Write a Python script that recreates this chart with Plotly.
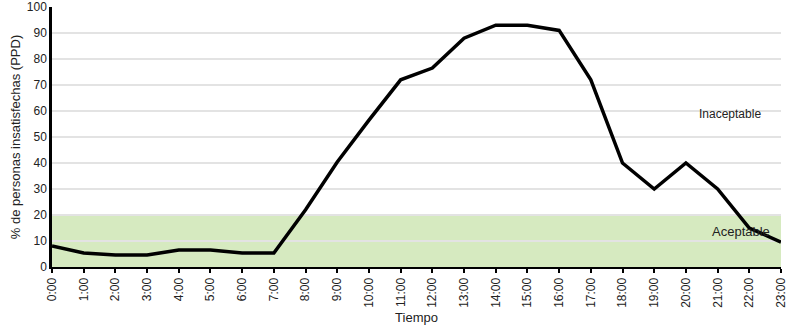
import plotly.graph_objects as go

hours = [f"{h}:00" for h in range(24)]
ppd = [8.1, 5.4, 4.6, 4.6, 6.5, 6.5, 5.4, 5.4, 22, 40.4, 56.5, 72, 76.5, 88, 93, 93, 91, 72, 40, 30, 40, 30, 15, 9.6]
y_ticks = [0, 10, 20, 30, 40, 50, 60, 70, 80, 90, 100]
band_low, band_high = 0, 20

fig = go.Figure()
fig.add_shape(type="rect", xref="x", yref="y", x0=0, x1=23, y0=band_low, y1=band_high,
              fillcolor="#d6eac0", line=dict(width=0), layer="below")
fig.add_trace(go.Scatter(x=list(range(24)), y=ppd, mode="lines",
                         line=dict(color="black", width=3.5), showlegend=False, cliponaxis=False))

fig.add_annotation(x=21.4, y=59, text="Inaceptable", showarrow=False,
                   font=dict(size=12, color="#222"))
fig.add_annotation(x=21.75, y=13.5, text="Aceptable", showarrow=False,
                   font=dict(size=13, color="#222"))

fig.update_layout(
    width=790, height=330,
    margin=dict(l=52, r=9, t=7, b=63),
    paper_bgcolor="white", plot_bgcolor="white",
    font=dict(family="Liberation Sans, Arial, sans-serif", size=12, color="#222"),
    xaxis=dict(range=[0, 23], tickmode="array", tickvals=list(range(24)), ticktext=hours,
               tickangle=-90, showgrid=False, showline=True, linecolor="black", linewidth=2,
               ticks="outside", tickcolor="black", ticklen=4, tickwidth=2, automargin=False,
               tickfont=dict(size=12, color="#222"), ticklabeloverflow="allow",
               title=dict(text="Tiempo", font=dict(size=13, color="#222"), standoff=6), zeroline=False),
    yaxis=dict(range=[0, 100], tickvals=y_ticks, showgrid=True, gridcolor="#e3e3e3", gridwidth=1.5,
               showline=True, linecolor="black", linewidth=2.5, zeroline=False, ticks="",
               automargin=False, tickfont=dict(size=12, color="#222"),
               title=dict(text="% de personas insatisfechas (PPD)", font=dict(size=13, color="#222"), standoff=4)),
)

fig.write_html("out.html", config={"displayModeBar": False},
               post_script="document.body.style.margin='0px';document.body.style.overflow='hidden';")
